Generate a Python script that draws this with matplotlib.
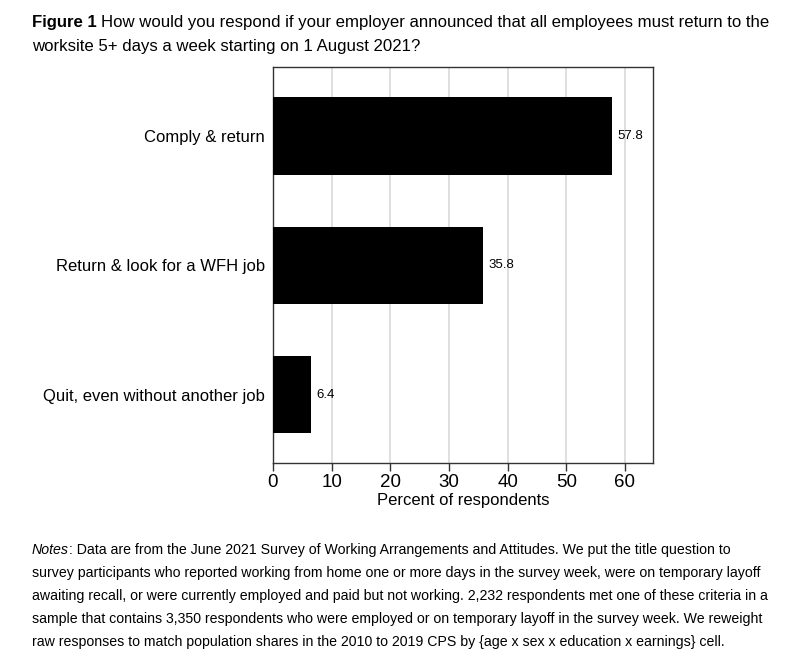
import matplotlib.pyplot as plt
import numpy as np

plt.rcParams['font.family'] = ['Liberation Sans', 'DejaVu Sans']

categories = ['Comply & return', 'Return & look for a WFH job', 'Quit, even without another job']
values = [57.8, 35.8, 6.4]
xticks = [0, 10, 20, 30, 40, 50, 60]

fig = plt.figure(figsize=(7.87, 6.59), dpi=100)
W, H = 787, 659
ax = fig.add_axes([273 / W, 1 - 463 / H, (653 - 273) / W, (463 - 67) / H])

y = np.arange(len(categories))
ax.barh(y, values, height=0.6, color='black', zorder=3)
for yi, v in zip(y, values):
    ax.text(v + 1, yi, f'{v:.1f}', va='center', ha='left', fontsize=9.5)

ax.set_xlim(0, 64.8)
ax.set_ylim(2.53, -0.535)
ax.set_yticks(y)
ax.set_yticklabels(categories, fontsize=12)
ax.tick_params(axis='y', length=0, pad=6)
ax.set_xticks(xticks)
ax.tick_params(axis='x', labelsize=13.5, length=5.5, width=1, pad=2.5, color='#333333')
ax.set_xlabel('Percent of respondents', fontsize=12, labelpad=1.5)
ax.grid(axis='x', color='#d9d9d9', linewidth=1.2, zorder=0)
for s in ax.spines.values():
    s.set_color('#333333')
    s.set_linewidth(1)

# title
t1 = fig.text(32 / W, 1 - 23 / H, 'Figure 1', fontsize=12.1, fontweight='bold', va='center')
fig.canvas.draw()
bb = t1.get_window_extent()
fig.text(bb.x1 / W + 4 / W, 1 - 23 / H,
         'How would you respond if your employer announced that all employees must return to the',
         fontsize=12.1, va='center')
fig.text(32 / W, 1 - 47 / H, 'worksite 5+ days a week starting on 1 August 2021?', fontsize=12.1, va='center')

# notes
n1 = fig.text(32 / W, 1 - 550 / H, 'Notes', fontsize=10.2, fontstyle='italic', va='center')
fig.canvas.draw()
nb = n1.get_window_extent()
fig.text(nb.x1 / W, 1 - 550 / H,
         ': Data are from the June 2021 Survey of Working Arrangements and Attitudes. We put the title question to',
         fontsize=10.2, va='center')
rest = [
    'survey participants who reported working from home one or more days in the survey week, were on temporary layoff',
    'awaiting recall, or were currently employed and paid but not working. 2,232 respondents met one of these criteria in a',
    'sample that contains 3,350 respondents who were employed or on temporary layoff in the survey week. We reweight',
    'raw responses to match population shares in the 2010 to 2019 CPS by {age x sex x education x earnings} cell.',
]
for i, line in enumerate(rest):
    fig.text(32 / W, 1 - (573 + 23 * i) / H, line, fontsize=10.2, va='center')

fig.savefig('out.png', dpi=100)
